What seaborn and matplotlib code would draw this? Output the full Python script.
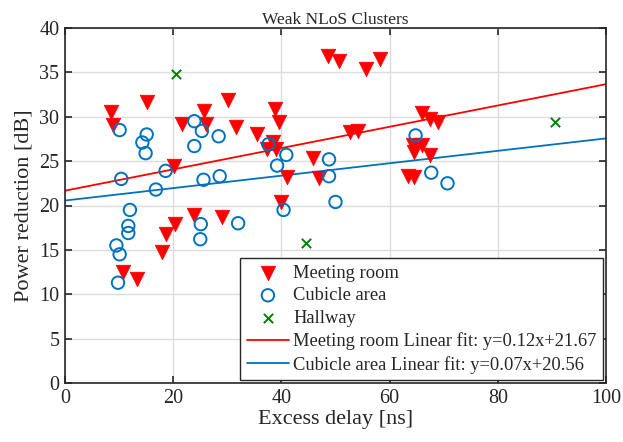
import matplotlib
matplotlib.use("Agg")
import matplotlib.pyplot as plt
import seaborn as sns
import numpy as np
import pandas as pd

# ---- data ----
meeting_x = [8.5, 8.8, 15.1, 21.7, 25.7, 26.0, 30.2, 31.7, 35.5, 38.8, 39.5, 38.4, 37.3, 39.0,
             41.0, 45.9, 46.9, 39.9, 48.7, 50.6, 55.6, 58.3, 52.6, 54.1, 65.9, 67.4, 68.9,
             64.4, 65.9, 64.6, 67.4, 63.4, 64.6, 20.1, 10.8, 13.4, 23.8, 20.3, 18.6, 18.0, 29.1]
meeting_y = [30.5, 29.1, 31.7, 29.2, 30.7, 29.2, 31.9, 28.9, 28.1, 30.9, 29.4, 27.2, 26.4, 26.4,
             23.2, 25.4, 23.1, 20.4, 36.8, 36.3, 35.4, 36.5, 28.3, 28.4, 30.4, 29.8, 29.4,
             26.8, 26.8, 26.0, 25.7, 23.3, 23.2, 24.5, 12.5, 11.7, 18.9, 17.9, 16.8, 14.8, 18.7]

cubicle_x = [10.1, 15.1, 14.3, 14.9, 23.9, 25.3, 23.9, 28.4, 10.4, 18.6, 16.8, 25.6, 28.6,
             12.0, 11.7, 11.7, 9.5, 10.1, 9.8, 25.1, 25.0, 32.0, 37.6, 40.9, 39.2, 48.8,
             48.8, 40.4, 50.0, 64.8, 67.7, 70.7]
cubicle_y = [28.5, 28.0, 27.1, 25.9, 29.5, 28.4, 26.7, 27.8, 23.0, 23.9, 21.8, 22.9, 23.3,
             19.5, 17.7, 16.9, 15.5, 14.5, 11.3, 17.9, 16.2, 18.0, 26.9, 25.7, 24.5, 25.2,
             23.3, 19.5, 20.4, 27.9, 23.7, 22.5]

hallway_x = [20.5, 44.6, 90.6]
hallway_y = [34.8, 15.8, 29.4]

fit_names = ["Meeting room", "Cubicle area"]
fit_slope = [0.12, 0.07]
fit_intercept = [21.67, 20.56]
fit_x_range = [0, 100]

x_ticks = [0, 20, 40, 60, 80, 100]
y_ticks = [0, 5, 10, 15, 20, 25, 30, 35, 40]

# ---- style ----
sns.set_theme(style="ticks")
plt.rcParams["font.family"] = ["Liberation Serif", "DejaVu Serif"]
plt.rcParams["mathtext.fontset"] = "stix"

RED = (1.0, 0.0, 0.0)
BLUE = (0.0, 0.447, 0.741)
GREEN = (0.0, 0.5, 0.0)
DARK = "#262626"

fig = plt.figure(figsize=(6.23, 4.42), dpi=100)
ax = fig.add_axes([65 / 623, 1 - 383 / 442, (606 - 65) / 623, (383 - 28) / 442])

meet_df = pd.DataFrame({"x": meeting_x, "y": meeting_y})
cub_df = pd.DataFrame({"x": cubicle_x, "y": cubicle_y})
hall_df = pd.DataFrame({"x": hallway_x, "y": hallway_y})

sns.scatterplot(data=meet_df, x="x", y="y", ax=ax, marker="v", s=110, color=RED,
                edgecolor=RED, linewidth=0.5, label="Meeting room", zorder=3)
sns.scatterplot(data=cub_df, x="x", y="y", ax=ax, marker="o", s=80, facecolors="none",
                edgecolor=BLUE, linewidth=1.4, label="Cubicle area", zorder=3)
sns.scatterplot(data=hall_df, x="x", y="y", ax=ax, marker="x", s=45, color=GREEN,
                linewidth=1.4, label="Hallway", zorder=3)

fit_colors = [RED, BLUE]
for name, m, b, c in zip(fit_names, fit_slope, fit_intercept, fit_colors):
    fx = np.array(fit_x_range, dtype=float)
    fdf = pd.DataFrame({"x": fx, "y": m * fx + b})
    sns.lineplot(data=fdf, x="x", y="y", ax=ax, color=c, linewidth=1.3,
                 label=f"{name} Linear fit: y={m:.2f}x+{b:.2f}", zorder=2)

ax.set_xlim(0, 100)
ax.set_ylim(0, 40)
ax.set_xticks(x_ticks)
ax.set_yticks(y_ticks)
ax.grid(True, color="#dcdcdc", linewidth=1.0)
ax.set_axisbelow(True)
for sp in ax.spines.values():
    sp.set_visible(True)
    sp.set_color(DARK)
    sp.set_linewidth(1.2)
ax.tick_params(direction="in", length=5, width=1.2, top=True, right=True,
               labelsize=14.5, colors=DARK, pad=4)
for lab in ax.get_xticklabels() + ax.get_yticklabels():
    lab.set_color(DARK)

ax.set_xlabel("Excess delay [ns]", fontsize=16, color=DARK, labelpad=2)
ax.set_ylabel("Power reduction [dB]", fontsize=16, color=DARK, labelpad=4)
ax.set_title("Weak NLoS Clusters", fontsize=12.5, color=DARK, pad=3)

leg = ax.legend(loc="lower right", bbox_to_anchor=(0.9945, 0.0085), fontsize=13.3,
                frameon=True, fancybox=False, edgecolor=DARK, framealpha=1,
                handlelength=2.3, handletextpad=0.22, borderpad=0.35, labelspacing=0.3,
                borderaxespad=0.0)
leg.get_frame().set_linewidth(1.0)

fig.savefig("out.png", dpi=100)
